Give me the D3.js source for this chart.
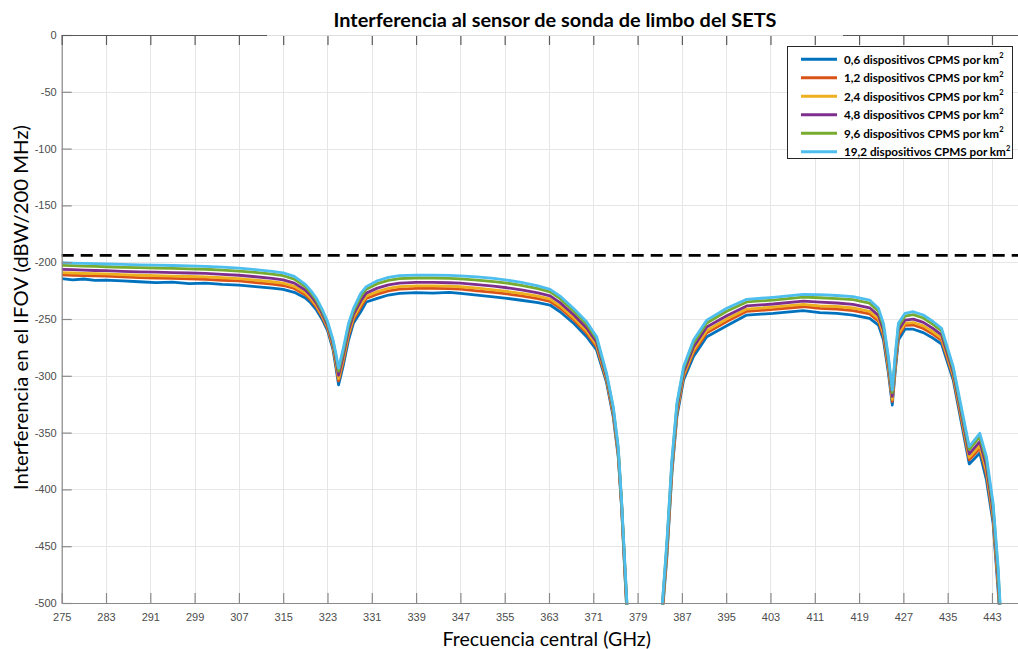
<!DOCTYPE html>
<html>
<head>
<meta charset="utf-8">
<script src="https://cdn.jsdelivr.net/npm/d3@7"></script>
<style>
  body { margin: 0; background: #fff; }
  svg { display: block; }
</style>
</head>
<body>
<svg id="chart" width="1018" height="649"></svg>
<script>
// Central frequency of each channel (GHz)
const freq = [
  275, 277, 279, 281, 283, 286, 289, 292, 295, 298,
  301, 304, 307, 310, 313, 315, 317, 319, 320, 321,
  322, 323, 324, 324.5, 325, 325.8, 326.8, 327.7, 329, 330,
  332, 334, 336, 339, 342, 345, 347, 350, 353, 355.4,
  358, 361, 363.2, 365, 367.5, 369.8, 371.6, 373.4, 374.6, 375.5,
  376.1, 376.7, 377.3, 383.3, 384.3, 385.2, 386.1, 387.3, 389.1, 391.5,
  395.1, 398.7, 403.5, 408.9, 411.9, 415, 417.9, 420.9, 422.5, 423.4,
  424.3, 425, 425.5, 426.1, 427.3, 428.8, 430.6, 432.4, 433.9, 436,
  438.9, 440.8, 442, 443.2, 444.1, 444.8
];

// Interference in the IFOV (dBW/200 MHz), one array per device density
const s06 = [
  -214.5, -215.5, -214.8, -216.0, -215.7, -216.5, -217.2, -218.0, -217.6, -218.8,
  -218.4, -219.5, -220.1, -221.5, -222.8, -224.0, -226.5, -231.5, -236, -242,
  -250, -260, -277, -292, -308, -292, -268.5, -253.5, -243.6, -235,
  -231.8, -228.9, -227.4, -226.8, -227.2, -226.5, -227.4, -229, -230.5, -231.8,
  -233.5, -235.5, -237.7, -243.6, -254, -265.6, -277.3, -306, -336, -371,
  -415, -474, -530, -520, -459, -385.6, -336, -303.7, -283, -265.6,
  -256, -246.5, -245, -242.7, -244.4, -245, -246.5, -249.4, -255.3, -268.5,
  -297.8, -325.7, -297.6, -268.5, -259, -259, -262, -267, -272, -303.7,
  -377.6, -368, -391.7, -429.6, -488.6, -540
];
const s12 = [
  -211.1, -211.5, -211.8, -212.1, -212.3, -213.0, -213.6, -214.0, -214.3, -214.7,
  -215.1, -215.9, -216.5, -217.9, -219.2, -220.5, -223.1, -228.6, -233.4, -239.5,
  -247.8, -258.1, -274.9, -289.1, -304.5, -288.4, -265.0, -250.4, -239.7, -231.8,
  -228.1, -225.2, -223.7, -223.1, -223.1, -223.3, -223.7, -225.2, -226.6, -227.9,
  -229.7, -232.0, -234.4, -240.3, -250.9, -262.4, -274.5, -304.0, -333.8, -368.9,
  -413.6, -471.8, -528, -518, -455.6, -382.8, -333.1, -300.9, -279.5, -262.1,
  -252.3, -243.2, -241.6, -239.2, -240.6, -241.2, -242.6, -245.5, -251.8, -265.0,
  -294.3, -322.5, -294.1, -265.0, -255.6, -255.3, -258.3, -263.5, -268.7, -300.9,
  -374.0, -363.8, -386.8, -425.4, -483.7, -538
];
const s24 = [
  -209.1, -209.5, -209.8, -210.1, -210.3, -211.0, -211.5, -211.9, -212.2, -212.6,
  -213.0, -213.7, -214.5, -215.8, -217.2, -218.5, -221.2, -226.9, -231.8, -238.1,
  -246.6, -257.0, -273.7, -287.4, -302.4, -286.3, -262.9, -248.6, -237.4, -229.9,
  -225.9, -223.0, -221.5, -220.9, -220.9, -221.1, -221.6, -222.9, -224.3, -225.7,
  -227.5, -229.9, -232.5, -238.4, -249.1, -260.6, -272.9, -302.9, -332.6, -367.7,
  -412.7, -470.6, -526, -517, -453.7, -381.2, -331.4, -299.3, -277.5, -260.1,
  -250.1, -241.3, -239.6, -237.2, -238.4, -239.0, -240.3, -243.3, -249.7, -262.9,
  -292.3, -320.7, -292.1, -262.9, -253.7, -253.1, -256.1, -261.5, -266.8, -299.3,
  -371.8, -361.4, -383.9, -422.9, -480.8, -536
];
const s48 = [
  -206.3, -206.6, -207.0, -207.3, -207.5, -208.1, -208.6, -208.8, -209.2, -209.5,
  -209.9, -210.7, -211.5, -212.8, -214.2, -215.5, -218.4, -224.5, -229.6, -236.0,
  -244.8, -255.4, -272.0, -285.0, -299.5, -283.3, -260.0, -246.0, -234.2, -227.2,
  -222.8, -219.9, -218.4, -217.8, -217.8, -218.1, -218.5, -219.7, -221.1, -222.5,
  -224.4, -227.0, -229.7, -235.6, -246.5, -257.9, -270.5, -301.2, -330.8, -366.0,
  -411.5, -468.8, -524, -515, -450.9, -378.9, -329.0, -296.9, -274.6, -257.1,
  -247.1, -238.5, -236.8, -234.3, -235.2, -235.9, -237.1, -240.1, -246.8, -260.0,
  -289.3, -318.0, -289.1, -260.0, -250.9, -250.1, -253.0, -258.5, -264.0, -296.9,
  -368.8, -357.9, -379.8, -419.4, -476.7, -534
];
const s96 = [
  -202.8, -203.1, -203.4, -203.7, -204.0, -204.5, -204.8, -205.1, -205.5, -205.8,
  -206.2, -206.9, -207.8, -209.0, -210.5, -211.9, -214.9, -221.5, -226.9, -233.5,
  -242.5, -253.4, -269.9, -282.0, -295.8, -279.6, -256.3, -242.8, -230.2, -223.8,
  -218.9, -216.0, -214.5, -213.9, -213.9, -214.2, -214.7, -215.7, -217.1, -218.4,
  -220.5, -223.3, -226.2, -232.1, -243.2, -254.6, -267.6, -299.2, -328.5, -363.9,
  -410.0, -466.5, -522, -513, -447.4, -376.0, -326.0, -294.0, -271.0, -253.5,
  -243.2, -235.0, -233.3, -230.7, -231.3, -232.0, -233.0, -236.0, -243.1, -256.3,
  -285.7, -314.7, -285.5, -256.3, -247.4, -246.2, -249.1, -254.9, -260.5, -294.0,
  -365.0, -353.6, -374.7, -415.0, -471.5, -532
];
const s192 = [
  -200.4, -200.8, -201.0, -201.3, -201.6, -202.0, -202.3, -202.5, -202.9, -203.2,
  -203.6, -204.3, -205.3, -206.5, -208.0, -209.4, -212.5, -219.5, -225, -231.7,
  -241, -252, -268.4, -280, -293.3, -277, -253.8, -240.6, -227.4, -221.5,
  -216.3, -213.3, -211.9, -211.3, -211.3, -211.6, -212.1, -213.0, -214.3, -215.7,
  -217.8, -220.8, -223.9, -229.8, -241, -252.4, -265.6, -297.8, -327, -362.4,
  -409, -465, -520, -512, -445, -374, -324, -292, -268.5, -251,
  -240.6, -232.7, -230.9, -228.3, -228.6, -229.3, -230.3, -233.3, -240.6, -253.8,
  -283.2, -312.5, -283, -253.8, -245, -243.6, -246.5, -252.4, -258.2, -292,
  -362.4, -350.6, -371.2, -412, -468, -530
];

const densities = ["0,6", "1,2", "2,4", "4,8", "9,6", "19,2"];
const seriesColors = ["#0072BD", "#D95319", "#EDB120", "#7E2F8E", "#77AC30", "#4DBEEE"];
const seriesValues = [s06, s12, s24, s48, s96, s192];

// Protection threshold (dBW/200 MHz)
const threshold = -194;

const xTickValues = [275, 283, 291, 299, 307, 315, 323, 331, 339, 347, 355, 363, 371, 379, 387, 395, 403, 411, 419, 427, 435, 443];
const yTickValues = [0, -50, -100, -150, -200, -250, -300, -350, -400, -450, -500];

const svg = d3.select("#chart");
const plotLeft = 61.7, plotRight = 1018, plotTop = 35, plotBottom = 603;

const x = d3.scaleLinear().domain([275, 447.7]).range([plotLeft, plotRight]);
const y = d3.scaleLinear().domain([-500, 0]).range([plotBottom, plotTop]);

// grid
const grid = svg.append("g").attr("stroke", "#e6e6e6").attr("stroke-width", 1);
grid.selectAll(".gx").data(xTickValues).join("line")
  .attr("x1", d => Math.round(x(d)) + 0.5).attr("x2", d => Math.round(x(d)) + 0.5)
  .attr("y1", plotTop).attr("y2", plotBottom);
grid.selectAll(".gy").data(yTickValues).join("line")
  .attr("x1", plotLeft).attr("x2", plotRight)
  .attr("y1", d => Math.round(y(d)) + 0.5).attr("y2", d => Math.round(y(d)) + 0.5);

// curves
svg.append("clipPath").attr("id", "plotClip")
  .append("rect").attr("x", plotLeft).attr("y", plotTop)
  .attr("width", plotRight - plotLeft).attr("height", plotBottom - plotTop + 1.5);

const line = d3.line().x((d, i) => x(freq[i])).y(d => y(d));
const curves = svg.append("g").attr("clip-path", "url(#plotClip)");
seriesValues.forEach((vals, k) => {
  curves.append("path")
    .attr("d", line(vals))
    .attr("fill", "none")
    .attr("stroke", seriesColors[k])
    .attr("stroke-width", 2.8)
    .attr("stroke-linejoin", "round");
});

// threshold line
svg.append("line")
  .attr("x1", plotLeft).attr("x2", plotRight)
  .attr("y1", y(threshold)).attr("y2", y(threshold))
  .attr("stroke", "#000").attr("stroke-width", 2.6)
  .attr("stroke-dasharray", "12,7");

// axes
const tickFont = "'Liberation Sans', Arial, sans-serif";
const styleAxis = (g, color) => {
  g.select(".domain").attr("stroke", color).attr("stroke-width", 1.2);
  g.selectAll(".tick line").attr("stroke", color).attr("stroke-width", 1.2);
  g.selectAll(".tick text").attr("fill", "#4d4d4d").attr("font-size", 11).attr("font-family", tickFont);
};

svg.append("g")
  .attr("transform", `translate(0,${plotBottom})`)
  .call(d3.axisBottom(x).tickValues(xTickValues).tickSizeInner(-10).tickSizeOuter(0).tickPadding(8).tickFormat(d => String(d)))
  .call(g => styleAxis(g, "#8a8a8a"))
  .call(g => g.selectAll(".tick text").attr("dy", "0.95em"));

svg.append("g")
  .attr("transform", `translate(${plotLeft},0)`)
  .call(d3.axisLeft(y).tickValues(yTickValues).tickSizeInner(-10).tickSizeOuter(0).tickPadding(5).tickFormat(d => String(d)))
  .call(g => styleAxis(g, "#8a8a8a"));

svg.append("g")
  .attr("transform", `translate(0,${plotTop})`)
  .call(d3.axisTop(x).tickValues(xTickValues).tickSizeInner(-10).tickSizeOuter(0).tickFormat(""))
  .call(g => styleAxis(g, "#5a5a5a"));

// title with white backing over the top edge
svg.append("rect").attr("x", 267).attr("y", 0).attr("width", 576).attr("height", plotTop + 0.8).attr("fill", "#fff");
svg.append("text")
  .attr("x", 555).attr("y", 27)
  .attr("text-anchor", "middle")
  .attr("font-family", "Lato, 'Open Sans', sans-serif")
  .attr("font-weight", "bold")
  .attr("font-size", 19)
  .attr("textLength", 443)
  .attr("lengthAdjust", "spacingAndGlyphs")
  .attr("fill", "#000")
  .text("Interferencia al sensor de sonda de limbo del SETS");

// axis titles
svg.append("text")
  .attr("x", 546.7).attr("y", 646)
  .attr("text-anchor", "middle")
  .attr("font-family", "Lato, 'Open Sans', sans-serif")
  .attr("font-size", 19.5)
  .attr("fill", "#000")
  .text("Frecuencia central (GHz)");

svg.append("text")
  .attr("transform", "translate(28,307.5) rotate(-90)")
  .attr("text-anchor", "middle")
  .attr("font-family", "Lato, 'Open Sans', sans-serif")
  .attr("font-size", 20)
  .attr("textLength", 365)
  .attr("lengthAdjust", "spacingAndGlyphs")
  .attr("fill", "#000")
  .text("Interferencia en el IFOV (dBW/200 MHz)");

// legend
const legend = svg.append("g");
legend.append("rect")
  .attr("x", 787.5).attr("y", 46.5).attr("width", 225).attr("height", 112)
  .attr("fill", "#fff").attr("stroke", "#262626").attr("stroke-width", 1);
densities.forEach((d, i) => {
  const ly = 59.3 + i * 18.5;
  legend.append("line")
    .attr("x1", 801).attr("x2", 837).attr("y1", ly).attr("y2", ly)
    .attr("stroke", seriesColors[i]).attr("stroke-width", 3);
  const t = legend.append("text")
    .attr("x", 844).attr("y", ly + 4.2)
    .attr("font-family", "Lato, 'Open Sans', sans-serif")
    .attr("font-weight", "bold")
    .attr("font-size", 11.7)
    .attr("fill", "#000");
  t.append("tspan").text(`${d} dispositivos CPMS por km`);
  t.append("tspan").attr("dy", -5.5).attr("font-size", 7.5).text("2");
});
</script>
</body>
</html>
